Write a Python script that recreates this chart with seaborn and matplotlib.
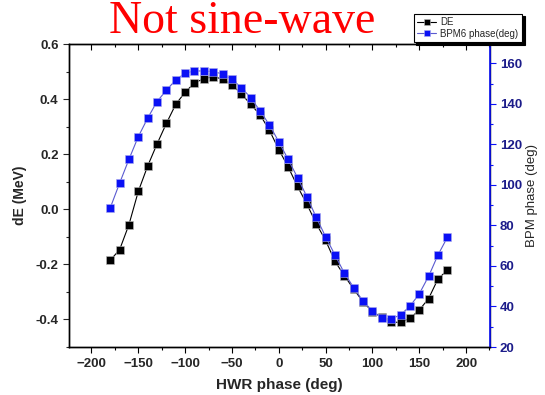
import matplotlib
matplotlib.use("Agg")
import matplotlib.pyplot as plt
import seaborn as sns
import pandas as pd
from matplotlib.ticker import MultipleLocator

# HWR phase scan (deg)
hwr_phase = list(range(-180, 181, 10))

# Energy deviation (MeV)
de_values = [-0.185, -0.147, -0.056, 0.065, 0.157, 0.237, 0.312, 0.381, 0.425, 0.459,
             0.474, 0.481, 0.473, 0.452, 0.419, 0.381, 0.343, 0.287, 0.217, 0.154,
             0.083, 0.019, -0.052, -0.113, -0.189, -0.241, -0.290, -0.336, -0.372, -0.392,
             -0.409, -0.411, -0.396, -0.366, -0.324, -0.253, -0.221]

# BPM6 phase (deg)
bpm_values = [88.6, 100.8, 112.6, 123.8, 132.9, 141.1, 146.7, 151.8, 155.1, 156.2,
              156.2, 155.9, 154.7, 152.1, 148.0, 143.0, 136.5, 129.6, 121.3, 112.6,
              103.6, 94.2, 84.0, 74.4, 65.4, 56.5, 49.3, 42.6, 37.9, 34.3,
              33.8, 35.9, 40.1, 46.2, 54.9, 65.4, 74.1]

df = pd.DataFrame({"phase": hwr_phase, "DE": de_values, "BPM": bpm_values})

sns.set_theme(style="white")
plt.rcParams["font.family"] = ["Liberation Sans", "DejaVu Sans"]

BLUE = "#0a10f5"
NAVY = "#1c1c8a"

fig = plt.figure(figsize=(5.45, 3.95), dpi=100)
ax = fig.add_axes([0.1266, 0.1215, 0.7724, 0.7671])
ax2 = ax.twinx()

sns.lineplot(data=df, x="phase", y="DE", ax=ax, color="black", lw=0.8,
             marker="s", markersize=5.8, markeredgecolor="#bbbbbb",
             markeredgewidth=0.4, markerfacecolor="black", label="DE", legend=False)
sns.lineplot(data=df, x="phase", y="BPM", ax=ax2, color="#5a5ad0", lw=0.8,
             marker="s", markersize=5.8, markeredgecolor="#aaaaee",
             markeredgewidth=0.4, markerfacecolor=BLUE, label="BPM6 phase(deg)",
             legend=False)

ax.set_xlim(-224, 225.5)
ax.set_ylim(-0.5, 0.6)
ax2.set_ylim(20, 169.5)

ax.xaxis.set_major_locator(MultipleLocator(50))
ax.xaxis.set_minor_locator(MultipleLocator(25))
ax.yaxis.set_major_locator(MultipleLocator(0.2))
ax.yaxis.set_minor_locator(MultipleLocator(0.1))
ax2.yaxis.set_major_locator(MultipleLocator(20))
ax2.yaxis.set_minor_locator(MultipleLocator(10))

for a in (ax, ax2):
    for s in a.spines.values():
        s.set_color("black")
        s.set_linewidth(1.0)
ax2.spines["right"].set_color(BLUE)
ax2.spines["right"].set_linewidth(1.2)

ax.tick_params(axis="x", which="both", direction="out", bottom=True, top=True,
               labelsize=9.5, color="black", width=0.8, pad=4)
ax.tick_params(axis="x", which="major", length=4)
ax.tick_params(axis="x", which="minor", length=2.5)
ax.tick_params(axis="y", which="both", direction="out", left=True, labelsize=9.5,
               width=0.8)
ax.tick_params(axis="y", which="major", length=4)
ax.tick_params(axis="y", which="minor", length=2.5)
ax2.tick_params(axis="y", which="both", direction="out", right=True, labelsize=9.5,
                color=BLUE, labelcolor=NAVY, width=0.8, pad=3)
ax2.tick_params(axis="y", which="major", length=4)
ax2.tick_params(axis="y", which="minor", length=2.5)

# top axis ticks point inward
for t in ax.xaxis.get_major_ticks() + ax.xaxis.get_minor_ticks():
    t.tick2line.set_marker(3)

ax.set_yticks([-0.4, -0.2, 0.0, 0.2, 0.4, 0.6])
ax.set_yticklabels(["-0.4", "-0.2", "0.0", "0.2", "0.4", "0.6"])

for lbl in ax.get_xticklabels() + ax.get_yticklabels() + ax2.get_yticklabels():
    lbl.set_fontweight("bold")

ax.set_xlabel("HWR phase (deg)", fontsize=11, fontweight="bold", labelpad=6)
ax.set_ylabel("dE (MeV)", fontsize=10, fontweight="bold", labelpad=6)
ax2.set_ylabel("BPM phase (deg)", fontsize=9.5, labelpad=3)

# title
fig.text(0.445, 0.917, "Not sine-wave", color="red", fontsize=33,
         family=["Liberation Serif", "DejaVu Serif"], ha="center", va="baseline")

# legend with drop shadow
h1, l1 = ax.get_legend_handles_labels()
h2, l2 = ax2.get_legend_handles_labels()
leg = fig.legend(h1 + h2, l1 + l2, loc="upper left",
                 bbox_to_anchor=(0.750, 0.978), fontsize=7, frameon=True,
                 fancybox=False, shadow={"color": "black", "alpha": 1.0},
                 handlelength=2.0, handletextpad=0.4, borderpad=0.35,
                 labelspacing=0.2, markerscale=0.8)
leg.get_frame().set_edgecolor("black")
leg.get_frame().set_linewidth(0.8)

fig.savefig("out.png", dpi=100)
